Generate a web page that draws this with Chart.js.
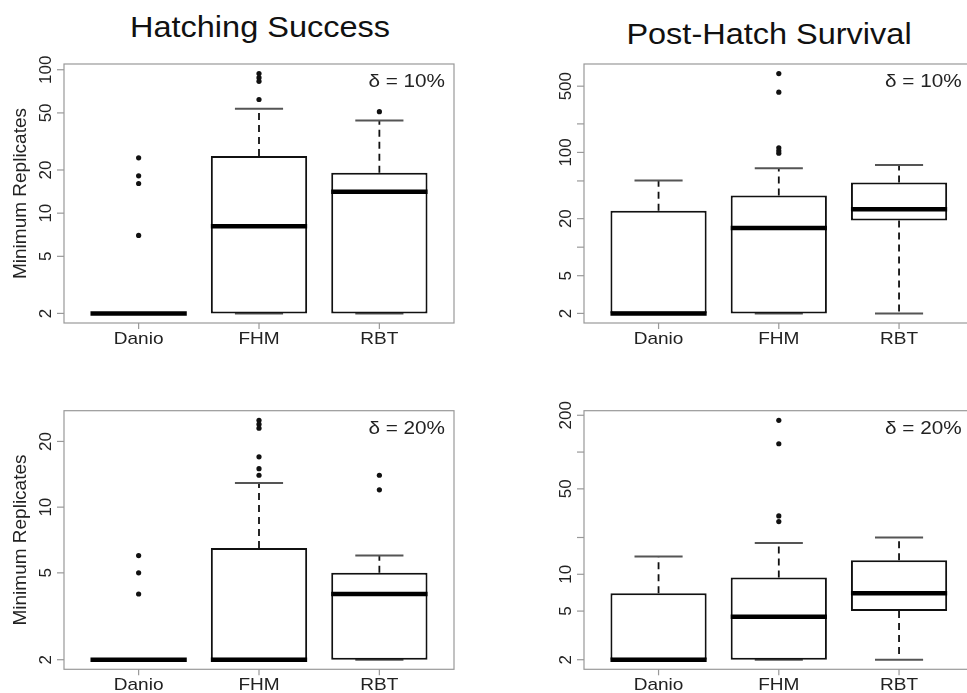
<!DOCTYPE html>
<html>
<head>
<meta charset="utf-8">
<title>Minimum Replicates</title>
<script src="https://cdn.jsdelivr.net/npm/chart.js@4"></script>
<style>
  html, body { margin: 0; padding: 0; background: #fff; }
  body { width: 967px; height: 693px; position: relative; overflow: hidden;
         font-family: "Liberation Sans", Arial, sans-serif; }
  canvas { position: absolute; }
  .title { position: absolute; width: 400px; text-align: center; white-space: nowrap;
           font-size: 29px; line-height: 29px; color: #111;
           transform: scaleX(1.12); transform-origin: center; }
</style>
</head>
<body>
<div class="title" style="left:60px; top:13px;">Hatching Success</div>
<div class="title" style="left:569px; top:20px;">Post-Hatch Survival</div>

<canvas id="hatch10" width="480" height="350" style="left:0; top:0;"></canvas>
<canvas id="post10" width="500" height="350" style="left:480px; top:0;"></canvas>
<canvas id="hatch20" width="480" height="343" style="left:0; top:350px;"></canvas>
<canvas id="post20" width="500" height="343" style="left:480px; top:350px;"></canvas>

<script>
  // groups on the x axis
  var categories = ['Danio', 'FHM', 'RBT'];

  // Hatching Success, delta = 10%
  var hatch10Low     = [2, 2, 2];
  var hatch10Q1      = [2, 2, 2];
  var hatch10Median  = [2, 8.1, 14.1];
  var hatch10Q3      = [2, 25, 19.1];
  var hatch10High    = [2, 53.4, 44.3];
  var hatch10Out     = [[24.3, 18.2, 16.1, 7], [94, 88, 83, 62], [51]];
  var hatch10Ticks   = [2, 5, 10, 20, 50, 100];
  var hatch10Labels  = ['2', '5', '10', '20', '50', '100'];

  // Post-Hatch Survival, delta = 10%
  var post10Low      = [2, 2, 2];
  var post10Q1       = [2, 2, 19.1];
  var post10Median   = [2, 15.9, 25.2];
  var post10Q3       = [24.2, 35.1, 48.1];
  var post10High     = [50.4, 68.1, 73.8];
  var post10Out      = [[], [679, 432, 112, 104, 98], []];
  var post10Ticks    = [2, 5, 10, 20, 50, 100, 200, 500];
  var post10Labels   = ['2', '5', '', '20', '', '100', '', '500'];

  // Hatching Success, delta = 20%
  var hatch20Low     = [2, 2, 2];
  var hatch20Q1      = [2, 2, 2];
  var hatch20Median  = [2, 2, 4];
  var hatch20Q3      = [2, 6.5, 5];
  var hatch20High    = [2, 12.9, 6];
  var hatch20Out     = [[6, 5, 4], [25, 24, 23, 17, 15, 14], [14, 12]];
  var hatch20Ticks   = [2, 5, 10, 20];
  var hatch20Labels  = ['2', '5', '10', '20'];

  // Post-Hatch Survival, delta = 20%
  var post20Low      = [2, 2, 2];
  var post20Q1       = [2, 2, 5];
  var post20Median   = [2, 4.5, 7];
  var post20Q3       = [7, 9.4, 13];
  var post20High     = [14, 18, 20];
  var post20Out      = [[], [182, 117, 30, 27], []];
  var post20Ticks    = [2, 5, 10, 20, 50, 100, 200];
  var post20Labels   = ['2', '5', '10', '', '50', '', '200'];

  var FONT = '"Liberation Sans", Arial, sans-serif';
  var STRETCH = 1.12;

  // whiskers, caps, medians, frame and axes in the R boxplot look
  var boxParts = {
    id: 'boxParts',
    beforeDatasetsDraw: function (chart) {
      var o = chart.options.plugins.boxParts;
      var xs = chart.scales.x, ys = chart.scales.y, ctx = chart.ctx;
      ctx.save();
      for (var i = 0; i < categories.length; i++) {
        var x = xs.getPixelForValue(i + 1);
        var cap = xs.getPixelForValue(i + 1.2) - x;
        ctx.strokeStyle = '#111';
        ctx.lineWidth = 1.8;
        ctx.setLineDash([7, 5]);
        ctx.beginPath();
        if (o.high[i] > o.q3[i]) {
          ctx.moveTo(x, ys.getPixelForValue(o.q3[i]));
          ctx.lineTo(x, ys.getPixelForValue(o.high[i]));
        }
        if (o.low[i] < o.q1[i]) {
          ctx.moveTo(x, ys.getPixelForValue(o.q1[i]));
          ctx.lineTo(x, ys.getPixelForValue(o.low[i]));
        }
        ctx.stroke();
        ctx.setLineDash([]);
        ctx.strokeStyle = '#555';
        ctx.lineWidth = 2;
        ctx.beginPath();
        [o.high[i], o.low[i]].forEach(function (v) {
          var y = ys.getPixelForValue(v);
          ctx.moveTo(x - cap, y);
          ctx.lineTo(x + cap, y);
        });
        ctx.stroke();
      }
      ctx.restore();
    },
    afterDatasetsDraw: function (chart) {
      var o = chart.options.plugins.boxParts;
      var xs = chart.scales.x, ys = chart.scales.y, ctx = chart.ctx;
      ctx.save();
      ctx.strokeStyle = '#000';
      ctx.lineWidth = 4.5;
      ctx.lineCap = 'butt';
      for (var i = 0; i < categories.length; i++) {
        var y = ys.getPixelForValue(o.median[i]);
        ctx.beginPath();
        ctx.moveTo(xs.getPixelForValue(i + 0.6), y);
        ctx.lineTo(xs.getPixelForValue(i + 1.4), y);
        ctx.stroke();
      }
      ctx.restore();
    },
    afterDraw: function (chart) {
      var o = chart.options.plugins.boxParts;
      var a = chart.chartArea, xs = chart.scales.x, ys = chart.scales.y, ctx = chart.ctx;
      ctx.save();
      // frame
      ctx.strokeStyle = '#999';
      ctx.lineWidth = 1.2;
      ctx.strokeRect(a.left, a.top, a.right - a.left, a.bottom - a.top);

      // y axis ticks and rotated labels
      ctx.fillStyle = '#222';
      ctx.font = '17px ' + FONT;
      o.ticks.forEach(function (t, k) {
        var y = ys.getPixelForValue(t);
        ctx.beginPath();
        ctx.moveTo(a.left, y);
        ctx.lineTo(a.left - 7, y);
        ctx.stroke();
        if (o.labels[k]) {
          ctx.save();
          ctx.translate(a.left - 13, y);
          ctx.rotate(-Math.PI / 2);
          ctx.textAlign = 'center';
          ctx.textBaseline = 'alphabetic';
          ctx.fillText(o.labels[k], 0, 0);
          ctx.restore();
        }
      });

      // x axis ticks and labels
      categories.forEach(function (c, i) {
        var x = xs.getPixelForValue(i + 1);
        ctx.beginPath();
        ctx.moveTo(x, a.bottom);
        ctx.lineTo(x, a.bottom + 6);
        ctx.stroke();
        ctx.save();
        ctx.translate(x, a.bottom + 20.5);
        ctx.scale(STRETCH, 1);
        ctx.textAlign = 'center';
        ctx.fillText(c, 0, 0);
        ctx.restore();
      });

      // delta note
      ctx.save();
      ctx.font = '18.5px ' + FONT;
      ctx.translate(a.right - o.noteInset, a.top + 23);
      ctx.scale(STRETCH, 1);
      ctx.textAlign = 'right';
      ctx.fillText(o.note, 0, 0);
      ctx.restore();

      // y axis title
      if (o.yTitle) {
        ctx.save();
        ctx.font = '19px ' + FONT;
        ctx.translate(26, (a.top + a.bottom) / 2);
        ctx.rotate(-Math.PI / 2);
        ctx.textAlign = 'center';
        ctx.fillText(o.yTitle, 0, 0);
        ctx.restore();
      }
      ctx.restore();
    }
  };

  function logRange(low, high, out) {
    var all = low.concat(high);
    out.forEach(function (v) { all = all.concat(v); });
    var lo = Math.log10(Math.min.apply(null, all));
    var hi = Math.log10(Math.max.apply(null, all));
    var ext = (hi - lo) * 0.04;
    return [Math.pow(10, lo - ext), Math.pow(10, hi + ext)];
  }

  function makeChart(id, pad, low, q1, median, q3, high, out, ticks, labels, note, noteInset, yTitle) {
    var range = logRange(low, high, out);
    var boxes = categories.map(function (c, i) { return { x: i + 1, y: [q1[i], q3[i]] }; });
    var points = [];
    out.forEach(function (vals, i) {
      vals.forEach(function (v) { points.push({ x: i + 1, y: v }); });
    });
    return new Chart(document.getElementById(id), {
      type: 'bar',
      data: {
        datasets: [
          {
            data: boxes,
            backgroundColor: '#fff',
            borderColor: '#111',
            borderWidth: 2,
            borderSkipped: false,
            barPercentage: 0.8,
            categoryPercentage: 1
          },
          {
            type: 'scatter',
            data: points,
            pointRadius: 2.6,
            pointBackgroundColor: '#111',
            pointBorderWidth: 0
          }
        ]
      },
      options: {
        responsive: false,
        animation: false,
        events: [],
        layout: { padding: pad },
        plugins: {
          legend: { display: false },
          tooltip: { enabled: false },
          boxParts: {
            low: low, q1: q1, median: median, q3: q3, high: high,
            ticks: ticks, labels: labels, note: note, noteInset: noteInset, yTitle: yTitle
          }
        },
        scales: {
          x: {
            type: 'linear', display: false, offset: false, min: 0.38, max: 3.62,
            afterBuildTicks: function (scale) {
              scale.ticks = categories.map(function (c, i) { return { value: i + 1 }; });
            }
          },
          y: { type: 'logarithmic', display: false, beginAtZero: false, min: range[0], max: range[1] }
        }
      },
      plugins: [boxParts]
    });
  }

  makeChart('hatch10', { left: 64, top: 64, right: 26, bottom: 27 },
    hatch10Low, hatch10Q1, hatch10Median, hatch10Q3, hatch10High, hatch10Out,
    hatch10Ticks, hatch10Labels, 'δ = 10%', 9, 'Minimum Replicates');

  makeChart('post10', { left: 104, top: 64, right: 6.4, bottom: 27 },
    post10Low, post10Q1, post10Median, post10Q3, post10High, post10Out,
    post10Ticks, post10Labels, 'δ = 10%', 12, null);

  makeChart('hatch20', { left: 64, top: 60.7, right: 26, bottom: 23.7 },
    hatch20Low, hatch20Q1, hatch20Median, hatch20Q3, hatch20High, hatch20Out,
    hatch20Ticks, hatch20Labels, 'δ = 20%', 9, 'Minimum Replicates');

  makeChart('post20', { left: 104, top: 60.7, right: 6.4, bottom: 23.7 },
    post20Low, post20Q1, post20Median, post20Q3, post20High, post20Out,
    post20Ticks, post20Labels, 'δ = 20%', 12, null);
</script>
</body>
</html>
